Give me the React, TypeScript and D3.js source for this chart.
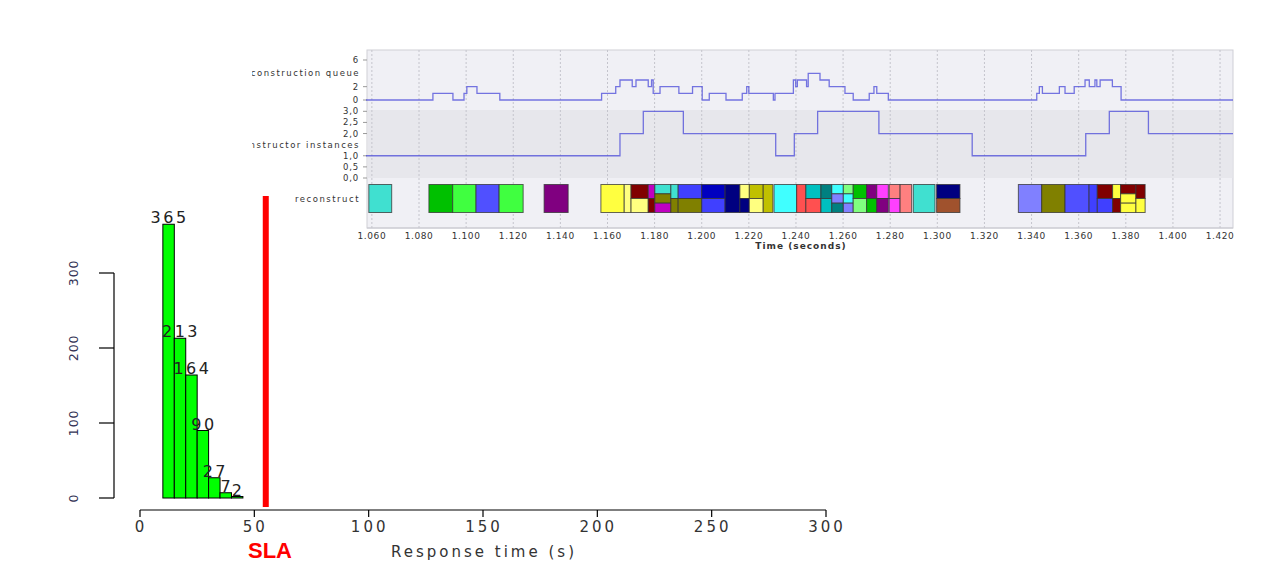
import React from 'react';
import * as d3 from 'd3';

// ---- histogram of response times ----
const binStarts = [10, 15, 20, 25, 30, 35, 40];
const binWidth = 5;
const binCounts = [365, 213, 164, 90, 27, 7, 2];
const slaSeconds = 55;
const respTicks = [0, 50, 100, 150, 200, 250, 300];
const countTicks = [0, 100, 200, 300];

// ---- timeline (seconds) ----
const timeTicks = [1.06, 1.08, 1.1, 1.12, 1.14, 1.16, 1.18, 1.2, 1.22, 1.24, 1.26, 1.28, 1.3, 1.32, 1.34, 1.36, 1.38, 1.4, 1.42];
const queueTicks = [0, 2, 6];
const instanceTicks = [0, 0.5, 1, 2, 2.5, 3];

// reconstruction queue length (step changes)
const queueTimes = [1.0575, 1.0859, 1.0944, 1.0991, 1.1003, 1.1046, 1.1143, 1.1575, 1.1635, 1.1653, 1.1705, 1.1721, 1.1773, 1.1787, 1.1794, 1.1823, 1.1903, 1.1961, 1.2002, 1.2032, 1.2103, 1.2172, 1.2191, 1.22, 1.2304, 1.2311, 1.2389, 1.2399, 1.2406, 1.2445, 1.2452, 1.2502, 1.2541, 1.2608, 1.2643, 1.2711, 1.2731, 1.2743, 1.2792, 1.3422, 1.3433, 1.3446, 1.3518, 1.3542, 1.3581, 1.3627, 1.3645, 1.3669, 1.3677, 1.3691, 1.3743, 1.378, 1.4255];
const queueLevels = [0, 1, 0, 1, 2, 1, 0, 1, 2, 3, 2, 3, 2, 3, 1, 2, 1, 2, 0, 1, 0, 1, 2, 1, 0, 1, 3, 2, 3, 2, 4, 3, 2, 1, 0, 1, 2, 1, 0, 1, 2, 1, 2, 1, 2, 3, 2, 3, 2, 3, 2, 0, 0];

// reconstructor instances (step changes)
const instTimes = [1.0575, 1.1653, 1.1752, 1.1922, 1.2314, 1.2393, 1.2492, 1.2752, 1.3148, 1.363, 1.373, 1.3896, 1.4255];
const instLevels = [1, 2, 3, 2, 1, 2, 3, 2, 1, 2, 3, 2, 2];

const palette = ['#40e0d0', '#00c000', '#40ff40', '#5050ff', '#800080', '#ffff40', '#ffff80', '#800000', '#c000c0', '#808000', '#4040ff', '#0000c0', '#000080', '#c0c000', '#40ffff', '#ff5050', '#00c0c0', '#008080', '#8080ff', '#80ff80', '#ff40ff', '#ff8080', '#a0522d'];

// reconstruct tasks: [start, end, lane, laneCount, colour index]
const tasks: [number, number, number, number, number][] = [
  [1.0587, 1.0684, 0, 1, 0],
  [1.0842, 1.0943, 0, 1, 1],
  [1.0943, 1.1042, 0, 1, 2],
  [1.1042, 1.114, 0, 1, 3],
  [1.114, 1.1242, 0, 1, 2],
  [1.1331, 1.1433, 0, 1, 4],
  [1.1572, 1.1671, 0, 1, 5],
  [1.1671, 1.17, 0, 1, 6],
  [1.17, 1.1773, 0, 2, 7],
  [1.17, 1.1773, 1, 2, 6],
  [1.1773, 1.1801, 0, 2, 8],
  [1.1773, 1.1801, 1, 2, 7],
  [1.1801, 1.1869, 0, 3, 0],
  [1.1801, 1.1869, 1, 3, 9],
  [1.1801, 1.1869, 2, 3, 8],
  [1.1869, 1.19, 0, 2, 0],
  [1.1869, 1.19, 1, 2, 9],
  [1.19, 1.2, 0, 2, 10],
  [1.19, 1.2, 1, 2, 9],
  [1.2, 1.2099, 0, 2, 11],
  [1.2, 1.2099, 1, 2, 10],
  [1.2099, 1.2162, 0, 1, 12],
  [1.2162, 1.2202, 0, 2, 6],
  [1.2162, 1.2202, 1, 2, 12],
  [1.2202, 1.2261, 0, 2, 13],
  [1.2202, 1.2261, 1, 2, 6],
  [1.2261, 1.2302, 0, 1, 13],
  [1.2307, 1.2403, 0, 1, 14],
  [1.2403, 1.2442, 0, 1, 15],
  [1.2442, 1.2506, 0, 2, 16],
  [1.2442, 1.2506, 1, 2, 15],
  [1.2506, 1.2552, 0, 2, 17],
  [1.2506, 1.2552, 1, 2, 16],
  [1.2552, 1.2601, 0, 3, 14],
  [1.2552, 1.2601, 1, 3, 18],
  [1.2552, 1.2601, 2, 3, 17],
  [1.2601, 1.2643, 0, 3, 19],
  [1.2601, 1.2643, 1, 3, 14],
  [1.2601, 1.2643, 2, 3, 18],
  [1.2643, 1.27, 0, 2, 1],
  [1.2643, 1.27, 1, 2, 19],
  [1.27, 1.2743, 0, 2, 4],
  [1.27, 1.2743, 1, 2, 1],
  [1.2743, 1.2792, 0, 2, 20],
  [1.2743, 1.2792, 1, 2, 4],
  [1.2796, 1.2842, 0, 2, 21],
  [1.2796, 1.2842, 1, 2, 20],
  [1.2842, 1.2891, 0, 1, 21],
  [1.2898, 1.299, 0, 1, 0],
  [1.2997, 1.3096, 0, 2, 12],
  [1.2997, 1.3096, 1, 2, 22],
  [1.3344, 1.3443, 0, 1, 18],
  [1.3443, 1.3542, 0, 1, 9],
  [1.3542, 1.3644, 0, 1, 3],
  [1.3644, 1.3679, 0, 1, 10],
  [1.3679, 1.3744, 0, 2, 7],
  [1.3679, 1.3744, 1, 2, 10],
  [1.3744, 1.3778, 0, 2, 5],
  [1.3744, 1.3778, 1, 2, 7],
  [1.3778, 1.3843, 0, 3, 7],
  [1.3778, 1.3843, 1, 3, 5],
  [1.3778, 1.3843, 2, 3, 5],
  [1.3843, 1.3882, 0, 2, 7],
  [1.3843, 1.3882, 1, 2, 5],
];

const W = 1272;
const H = 576;
const topFont = '"DejaVu Sans", sans-serif';
const histFont = '"DejaVu Sans", Arial, sans-serif';

function Timeline() {
  const left = 367, right = 1233, top = 50, bottom = 228;
  const x = d3.scaleLinear().domain([1.0575, 1.4255]).range([366, 1233]);
  const yQ = d3.scaleLinear().domain([0, 6]).range([100, 60]);
  const yI = d3.scaleLinear().domain([0, 3]).range([178, 111.3]);
  const lane = d3.scaleLinear().domain([0, 1]).range([184.5, 212.5]);

  const step = (ys: d3.ScaleLinear<number, number>) =>
    d3.line<[number, number]>().x(d => x(d[0])).y(d => ys(d[1])).curve(d3.curveStepAfter);
  const qPath = step(yQ)(queueTimes.map((t, i) => [t, queueLevels[i]]));
  const iPath = step(yI)(instTimes.map((t, i) => [t, instLevels[i]]));
  const fmtT = d3.format('.3f');
  const fmtI = (v: number) => d3.format('.1f')(v).replace('.', ',');

  return (
    <g>
      <defs>
        <clipPath id="lblclip"><rect x={252} y={40} width={120} height={200} /></clipPath>
      </defs>
      <rect x={left} y={top} width={right - left} height={bottom - top} fill="#f0f0f5" stroke="#cfcfd6" />
      <rect x={left + 0.5} y={110} width={right - left - 1} height={68} fill="#e7e7ec" />
      {timeTicks.map(t => (
        <line key={t} x1={x(t)} x2={x(t)} y1={top} y2={bottom} stroke="#c4c4cc" strokeDasharray="2,2" />
      ))}
      <line x1={left} x2={right} y1={bottom} y2={bottom} stroke="#c8c8cf" />
      {timeTicks.map(t => (
        <text key={t} x={x(t)} y={238.5} textAnchor="middle" fontSize={9} letterSpacing={0.6}
          fontFamily={topFont} fill="#333">{fmtT(t)}</text>
      ))}
      <text x={801} y={248.5} textAnchor="middle" fontSize={9} fontWeight="bold" letterSpacing={1}
        fontFamily={topFont} fill="#333">Time (seconds)</text>

      {queueTicks.map(v => (
        <g key={'q' + v}>
          <text x={359} y={yQ(v) + 3} textAnchor="end" fontSize={8.5} letterSpacing={0.8} fontFamily={topFont} fill="#333">{v}</text>
          <line x1={363} x2={367} y1={yQ(v)} y2={yQ(v)} stroke="#999" />
        </g>
      ))}
      {instanceTicks.map(v => (
        <g key={'i' + v}>
          <text x={359} y={yI(v) + 3} textAnchor="end" fontSize={8.5} letterSpacing={0.8} fontFamily={topFont} fill="#333">{fmtI(v)}</text>
          <line x1={363} x2={367} y1={yI(v)} y2={yI(v)} stroke="#999" />
        </g>
      ))}
      <g clipPath="url(#lblclip)" fontSize={8.5} letterSpacing={1.5} fontFamily={topFont} fill="#333" textAnchor="end">
        <text x={360} y={76}>reconstruction queue</text>
        <text x={360} y={148}>reconstructor instances</text>
        <text x={360} y={202}>reconstruct</text>
      </g>

      {tasks.map((d, i) => (
        <rect key={i} x={x(d[0])} width={x(d[1]) - x(d[0])}
          y={lane(d[2] / d[3])} height={lane((d[2] + 1) / d[3]) - lane(d[2] / d[3])}
          fill={palette[d[4]]} stroke="#333" strokeOpacity={0.75} strokeWidth={1} />
      ))}

      <path d={qPath ?? ''} fill="none" stroke="#4a4ad8" strokeOpacity={0.75} strokeWidth={1.3} />
      <path d={iPath ?? ''} fill="none" stroke="#4a4ad8" strokeOpacity={0.75} strokeWidth={1.3} />
    </g>
  );
}

function Histogram() {
  const x = d3.scaleLinear().domain([0, 300]).range([140, 826]);
  const y = d3.scaleLinear().domain([0, 300]).range([498, 273]);
  const axisY = 510;
  return (
    <g fontFamily={histFont}>
      {binStarts.map((b, i) => (
        <rect key={b} x={x(b)} width={x(b + binWidth) - x(b)} y={y(binCounts[i])}
          height={y(0) - y(binCounts[i])} fill="#00ff00" stroke="#000" strokeWidth={1} />
      ))}
      {binStarts.map((b, i) => (
        <text key={'l' + b} x={x(b + binWidth / 2) + 1} y={y(binCounts[i]) - 1} textAnchor="middle"
          fontSize={16} letterSpacing={2.5} fill="#222">{binCounts[i]}</text>
      ))}

      <rect x={x(slaSeconds) - 3} width={6} y={196} height={311} fill="#ff0000" />
      <text x={270} y={558} textAnchor="middle" fontSize={22} fontWeight="bold"
        fontFamily='"Liberation Sans Narrow", "Liberation Sans", sans-serif' fill="#ff0000">SLA</text>

      {/* y axis */}
      <line x1={114} x2={114} y1={y(0)} y2={y(300)} stroke="#000" strokeWidth={1.2} />
      {countTicks.map(v => (
        <g key={v}>
          <line x1={99} x2={114} y1={y(v)} y2={y(v)} stroke="#000" strokeWidth={1.2} />
          <text transform={`translate(78,${y(v)}) rotate(-90)`} textAnchor="middle" fontSize={12.5}
            letterSpacing={0.8} fill="#333355">{v}</text>
        </g>
      ))}

      {/* x axis */}
      <line x1={x(0)} x2={x(300)} y1={axisY} y2={axisY} stroke="#000" strokeWidth={1.2} />
      {respTicks.map(v => (
        <g key={v}>
          <line x1={x(v)} x2={x(v)} y1={axisY} y2={axisY + 7} stroke="#000" strokeWidth={1.2} />
          <text x={x(v) + 1} y={532} textAnchor="middle" fontSize={15} letterSpacing={3} fill="#333">{v}</text>
        </g>
      ))}
      <text x={484} y={557} textAnchor="middle" fontSize={15} letterSpacing={3} fill="#333">Response time (s)</text>
    </g>
  );
}

export default function App() {
  return (
    <svg width={W} height={H} style={{ position: 'absolute', left: 0, top: 0, background: '#fff' }}>
      <Timeline />
      <Histogram />
    </svg>
  );
}
